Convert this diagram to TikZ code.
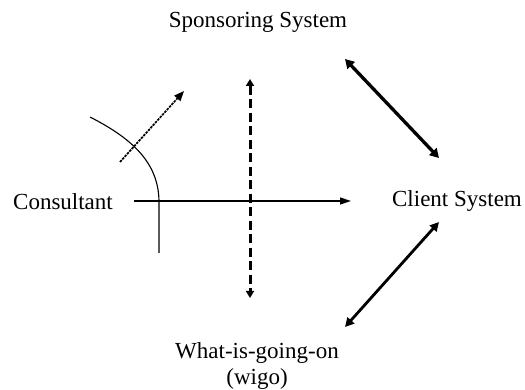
\documentclass[tikz,border=0pt]{standalone}
\usepackage{fontspec}
\setmainfont{Liberation Serif}
\usetikzlibrary{arrows.meta}
\begin{document}
\begin{tikzpicture}[x=1pt,y=-1pt,
  lbl/.style={font=\fontsize{23}{26}\selectfont, inner sep=0pt, align=center},
  thinarrow/.style={line width=1.4pt, -{Triangle[length=11pt,width=7pt]}},
  dasharrow/.style={line width=3pt, dash pattern=on 9pt off 4.5pt, {Triangle[length=7pt,width=8pt]}-{Triangle[length=7pt,width=8pt]}},
  bigarrow/.style={line width=3.3pt, {Triangle[length=9pt,width=10pt]}-{Triangle[length=9pt,width=10pt]}},
  midarrow/.style={line width=2.8pt, {Triangle[length=9pt,width=9pt]}-{Triangle[length=9pt,width=9pt]}},
  dotarrow/.style={line width=1.7pt, dash pattern=on 2.5pt off 1pt, -{Triangle[length=10pt,width=8pt]}},
  curveline/.style={line width=1.1pt}]
\useasboundingbox (0,0) rectangle (525,390);
\node[lbl] (spons) at (258,22) {Sponsoring System};
\node[lbl] (cons) at (63,202) {Consultant};
\node[lbl] (client) at (457,201) {Client System};
\node[lbl] (wigo) at (257,366) {What-is-going-on\\(wigo)};
\coordinate (h1) at (134,201);
\coordinate (h2) at (351,201);
\coordinate (v1) at (250,79);
\coordinate (v2) at (250,298);
\coordinate (d1) at (345,59);
\coordinate (d2) at (439,158);
\coordinate (e1) at (439,222);
\coordinate (e2) at (345,327);
\coordinate (p1) at (120,162);
\coordinate (p2) at (184,91);
\coordinate (c1) at (90,117);
\coordinate (c2) at (159,253);
\draw[thinarrow] (h1) -- (h2);
\draw[dasharrow] (v1) -- (v2);
\draw[bigarrow] (d1) -- (d2);
\draw[midarrow] (e1) -- (e2);
\draw[dotarrow] (p1) -- (p2);
\draw[curveline] (c1) .. controls (135,140) and (160,165) .. (159,205) -- (c2);
\end{tikzpicture}
\end{document}
